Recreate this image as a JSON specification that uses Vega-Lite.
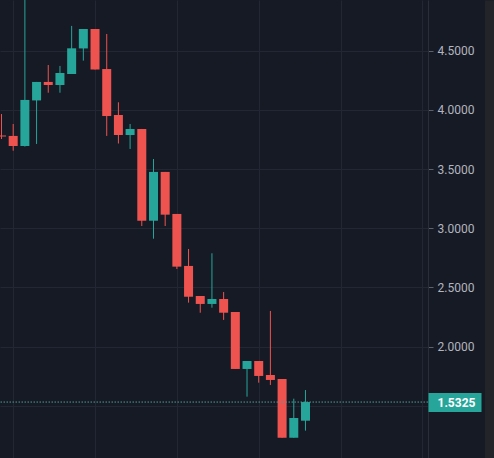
{
  "$schema": "https://vega.github.io/schema/vega-lite/v6.json",
  "width": 428,
  "height": 458,
  "autosize": {"type": "none"},
  "padding": {"left": 0, "top": 0, "bottom": 0, "right": 66},
  "background": "#161a25",
  "config": {"view": {"stroke": null}},
  "data": {"values": [
    {"i": 0, "open": 3.784, "high": 3.965, "low": 3.754, "close": 3.775},
    {"i": 1, "open": 3.780, "high": 3.881, "low": 3.655, "close": 3.695},
    {"i": 2, "open": 3.695, "high": 5.2, "low": 3.690, "close": 4.084},
    {"i": 3, "open": 4.080, "high": 4.236, "low": 3.712, "close": 4.236},
    {"i": 4, "open": 4.236, "high": 4.379, "low": 4.145, "close": 4.210},
    {"i": 5, "open": 4.210, "high": 4.371, "low": 4.145, "close": 4.312},
    {"i": 6, "open": 4.303, "high": 4.709, "low": 4.303, "close": 4.520},
    {"i": 7, "open": 4.519, "high": 4.683, "low": 4.416, "close": 4.683},
    {"i": 8, "open": 4.683, "high": 4.683, "low": 4.341, "close": 4.341},
    {"i": 9, "open": 4.345, "high": 4.641, "low": 3.780, "close": 3.948},
    {"i": 10, "open": 3.957, "high": 4.064, "low": 3.716, "close": 3.788},
    {"i": 11, "open": 3.788, "high": 3.881, "low": 3.670, "close": 3.839},
    {"i": 12, "open": 3.839, "high": 3.839, "low": 3.019, "close": 3.064},
    {"i": 13, "open": 3.064, "high": 3.585, "low": 2.912, "close": 3.476},
    {"i": 14, "open": 3.476, "high": 3.476, "low": 3.019, "close": 3.115},
    {"i": 15, "open": 3.121, "high": 3.121, "low": 2.656, "close": 2.676},
    {"i": 16, "open": 2.682, "high": 2.825, "low": 2.372, "close": 2.422},
    {"i": 17, "open": 2.428, "high": 2.428, "low": 2.287, "close": 2.361},
    {"i": 18, "open": 2.361, "high": 2.789, "low": 2.329, "close": 2.403},
    {"i": 19, "open": 2.403, "high": 2.462, "low": 2.226, "close": 2.287},
    {"i": 20, "open": 2.293, "high": 2.293, "low": 1.812, "close": 1.812},
    {"i": 21, "open": 1.812, "high": 1.879, "low": 1.578, "close": 1.879},
    {"i": 22, "open": 1.879, "high": 1.879, "low": 1.696, "close": 1.753},
    {"i": 23, "open": 1.761, "high": 2.302, "low": 1.677, "close": 1.719},
    {"i": 24, "open": 1.727, "high": 1.727, "low": 1.231, "close": 1.231},
    {"i": 25, "open": 1.231, "high": 1.561, "low": 1.231, "close": 1.398},
    {"i": 26, "open": 1.375, "high": 1.634, "low": 1.291, "close": 1.5325}
  ]},
  "resolve": {"axis": {"y": "independent"}},
  "layer": [
    {
      "mark": {"type": "rule", "clip": true, "strokeWidth": 1},
      "encoding": {
        "x": {
          "field": "i", "type": "quantitative",
          "scale": {"domain": [-0.128, 36.48], "nice": false, "zero": false, "padding": 0},
          "axis": {"values": [1, 8, 15, 22, 29, 36], "grid": true, "gridColor": "#232733", "gridWidth": 1, "labels": false, "ticks": false, "domain": false, "title": null}
        },
        "y": {
          "field": "low", "type": "quantitative",
          "scale": {"domain": [1.06, 4.928], "nice": false, "zero": false, "padding": 0},
          "axis": {
            "orient": "right", "title": null,
            "values": [1.5, 2, 2.5, 3, 3.5, 4, 4.5],
            "labelExpr": "datum.value < 1.9 ? '' : format(datum.value, '.4f')",
            "grid": true, "gridColor": "#232733", "gridWidth": 1,
            "domain": true, "domainColor": "#2a2e39", "domainWidth": 1,
            "ticks": true, "tickSize": 5, "tickColor": "#5d606b", "tickWidth": 1,
            "labelPadding": 4, "labelColor": "#b2b5be", "labelFont": "Roboto", "labelFontSize": 12
          }
        },
        "y2": {"field": "high"},
        "color": {"condition": {"test": "datum.close >= datum.open", "value": "#26a69a"}, "value": "#ef5350"}
      }
    },
    {
      "mark": {"type": "bar", "clip": true, "size": 9},
      "encoding": {
        "x": {"field": "i", "type": "quantitative"},
        "y": {
          "field": "open", "type": "quantitative",
          "axis": {
            "orient": "right", "title": null, "offset": 61.5,
            "labels": false, "ticks": false, "grid": false,
            "domain": true, "domainWidth": 10, "domainColor": "#222429"
          }
        },
        "y2": {"field": "close"},
        "color": {"condition": {"test": "datum.close >= datum.open", "value": "#26a69a"}, "value": "#ef5350"}
      }
    },
    {
      "data": {"values": [{"last": 1.5325}]},
      "mark": {"type": "rule", "strokeDash": [1.5, 1.5], "color": "#4f9e96", "strokeWidth": 1},
      "encoding": {
        "y": {
          "field": "last", "type": "quantitative",
          "axis": {
            "orient": "right", "title": null, "values": [1.5325], "format": ".4f",
            "grid": false, "domain": false,
            "ticks": true, "tickSize": 53, "tickWidth": 19, "tickColor": "#26a69a", "tickCap": "butt",
            "labelPadding": -44, "labelColor": "#ffffff", "labelFontWeight": "bold", "labelFont": "Roboto", "labelFontSize": 12
          }
        }
      }
    }
  ]
}
